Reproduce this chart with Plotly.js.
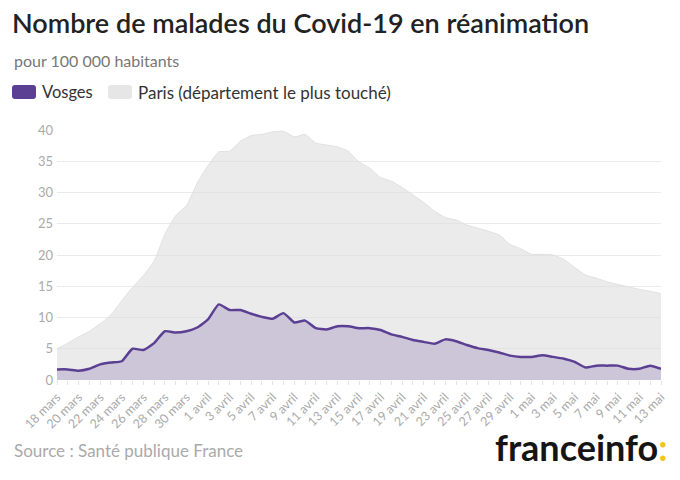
<!DOCTYPE html>
<html>
<head>
<meta charset="utf-8">
<script src="https://cdn.plot.ly/plotly-3.0.1.min.js"></script>
<style>
html,body{margin:0;padding:0;background:#fff;}
#chart{width:680px;height:480px;}
</style>
</head>
<body>
<div id="chart"></div>
<script>
const days = [
  "18 mars","19 mars","20 mars","21 mars","22 mars","23 mars","24 mars","25 mars","26 mars","27 mars","28 mars","29 mars","30 mars","31 mars",
  "1 avril","2 avril","3 avril","4 avril","5 avril","6 avril","7 avril","8 avril","9 avril","10 avril","11 avril","12 avril","13 avril","14 avril","15 avril",
  "16 avril","17 avril","18 avril","19 avril","20 avril","21 avril","22 avril","23 avril","24 avril","25 avril","26 avril","27 avril","28 avril","29 avril","30 avril",
  "1 mai","2 mai","3 mai","4 mai","5 mai","6 mai","7 mai","8 mai","9 mai","10 mai","11 mai","12 mai","13 mai"
];
const vosges = [
  1.7,1.7,1.5,1.8,2.5,2.8,3.0,5.0,4.8,5.9,7.8,7.6,7.8,8.4,
  9.7,12.1,11.2,11.2,10.6,10.1,9.8,10.7,9.2,9.5,8.3,8.1,8.6,8.6,8.3,
  8.3,8.0,7.3,6.9,6.4,6.1,5.8,6.5,6.2,5.6,5.1,4.8,4.4,3.9,3.7,
  3.7,3.95,3.7,3.4,2.9,2.0,2.3,2.3,2.3,1.8,1.8,2.3,1.8
];
const paris = [
  5.0,5.9,6.9,7.8,9.0,10.4,12.7,14.8,16.7,19.0,23.3,26.3,27.9,31.5,
  34.3,36.5,36.6,38.2,39.1,39.3,39.7,39.8,38.9,39.3,37.9,37.6,37.3,36.6,34.9,
  33.9,32.4,31.8,30.8,29.6,28.4,27.0,26.0,25.6,24.8,24.3,23.8,23.2,21.7,21.0,
  20.1,20.1,20.0,19.3,18.0,16.8,16.3,15.7,15.3,14.9,14.5,14.2,13.8
];
const seriesNames = ["Vosges", "Paris (département le plus touché)"];
const tickLabels = days.map((d, i) => (i % 2 === 0 ? d : ""));

const W = 680, H = 480;
const M = {l: 57, r: 19, t: 130, b: 100};
const PW = W - M.l - M.r, PH = H - M.t - M.b;
const px = x => (x - M.l) / PW;
const py = y => (H - M.b - y) / PH;

function roundRect(x0, y0, x1, y1, r) {
  const X = v => px(v), Y = v => py(v);
  return `M ${X(x0 + r)} ${Y(y0)} L ${X(x1 - r)} ${Y(y0)} Q ${X(x1)} ${Y(y0)} ${X(x1)} ${Y(y0 + r)} ` +
         `L ${X(x1)} ${Y(y1 - r)} Q ${X(x1)} ${Y(y1)} ${X(x1 - r)} ${Y(y1)} ` +
         `L ${X(x0 + r)} ${Y(y1)} Q ${X(x0)} ${Y(y1)} ${X(x0)} ${Y(y1 - r)} ` +
         `L ${X(x0)} ${Y(y0 + r)} Q ${X(x0)} ${Y(y0)} ${X(x0 + r)} ${Y(y0)} Z`;
}

const FONT = "Lato, 'Noto Sans', sans-serif";

const traces = [
  {
    x: days, y: paris, type: "scatter", mode: "lines", name: seriesNames[1],
    fill: "tozeroy", fillcolor: "rgba(222,222,222,0.6)",
    line: {color: "rgba(225,225,225,1)", width: 1, shape: "spline", smoothing: 0.5},
    hoverinfo: "skip"
  },
  {
    x: days, y: vosges, type: "scatter", mode: "lines", name: seriesNames[0],
    fill: "tozeroy", fillcolor: "#cdc6d9",
    line: {color: "#5b3f93", width: 2.5, shape: "spline", smoothing: 0.5},
    hoverinfo: "skip"
  }
];

const layout = {
  width: W, height: H,
  margin: M,
  paper_bgcolor: "#fff", plot_bgcolor: "#fff",
  showlegend: false,
  font: {family: FONT, color: "#999"},
  title: {
    text: "Nombre de malades du Covid-19 en réanimation",
    xref: "container", yref: "container",
    x: 12 / W, xanchor: "left", y: 1 - 14 / H, yanchor: "top",
    font: {family: FONT, size: 27, color: "#222", weight: 600}
  },
  xaxis: {
    type: "category",
    range: [0, days.length - 1],
    tickvals: days, ticktext: tickLabels,
    tickangle: -45,
    ticks: "outside", ticklen: 4, tickcolor: "#e3e3e3", tickwidth: 1,
    tickfont: {family: FONT, size: 12.5, color: "#aaa"},
    showgrid: false, zeroline: false, showline: false,
    fixedrange: true
  },
  yaxis: {
    range: [0, 40],
    tickvals: [0, 5, 10, 15, 20, 25, 30, 35, 40],
    tickfont: {family: FONT, size: 13, color: "#aaa"},
    gridcolor: "#ebebeb", gridwidth: 1,
    zeroline: false, showline: false,
    ticks: "", ticklabelstandoff: 3,
    fixedrange: true
  },
  shapes: [
    {type: "path", xref: "paper", yref: "paper", path: roundRect(12, 85, 36, 99, 3),
     fillcolor: "#5b3f93", line: {width: 0}},
    {type: "path", xref: "paper", yref: "paper", path: roundRect(108, 85, 132, 99, 3),
     fillcolor: "#e6e6e6", line: {width: 0}}
  ],
  annotations: [
    {text: "pour 100 000 habitants", xref: "paper", yref: "paper",
     x: px(12), y: py(60), xanchor: "left", yanchor: "middle", showarrow: false,
     font: {family: FONT, size: 16, color: "#777"}},
    {text: seriesNames[0], xref: "paper", yref: "paper",
     x: px(40), y: py(92), xanchor: "left", yanchor: "middle", showarrow: false,
     font: {family: FONT, size: 16.5, color: "#333"}},
    {text: seriesNames[1], xref: "paper", yref: "paper",
     x: px(136), y: py(92), xanchor: "left", yanchor: "middle", showarrow: false,
     font: {family: FONT, size: 17, color: "#333"}},
    {text: "Source : Santé publique France", xref: "paper", yref: "paper",
     x: px(12), y: py(450), xanchor: "left", yanchor: "middle", showarrow: false,
     font: {family: FONT, size: 17, color: "#aaa"}},
    {text: "franceinfo<span style=\"color:#f5c518\">:</span>", xref: "paper", yref: "paper",
     x: px(669), y: py(447), xanchor: "right", yanchor: "middle", showarrow: false,
     font: {family: FONT, size: 36, color: "#151515", weight: 700}}
  ]
};

Plotly.newPlot("chart", traces, layout, {displayModeBar: false, staticPlot: true});
</script>
</body>
</html>
